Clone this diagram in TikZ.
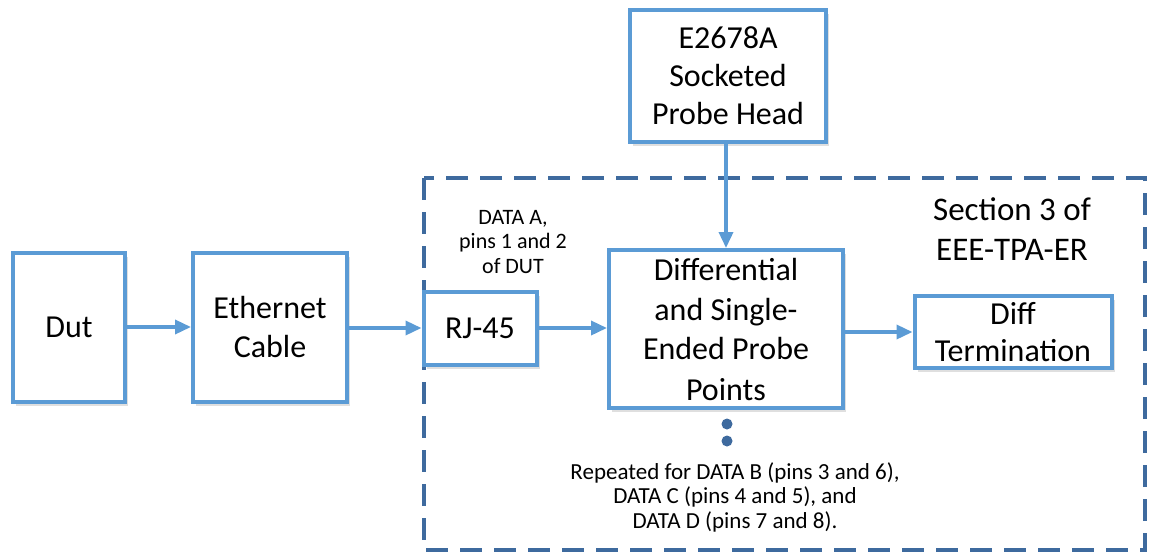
\documentclass[tikz,border=0pt]{standalone}
\usepackage{fontspec}
\setmainfont{Carlito}
\usetikzlibrary{arrows.meta,shadows}
\definecolor{boxblue}{HTML}{5B9BD5}
\definecolor{dashblue}{HTML}{3E6A9E}
\begin{document}
\begin{tikzpicture}[x=1pt,y=-1pt,
        block/.style={draw=boxblue,line width=4pt,fill=white,align=center,inner sep=0pt,
            drop shadow={shadow xshift=3pt,shadow yshift=-4pt,opacity=0.25}},
        big/.style={font=\fontsize{32}{39}\selectfont},
        small/.style={font=\fontsize{22}{24.5}\selectfont},
        dot/.style={circle,fill=dashblue,inner sep=0pt,minimum size=11pt},
        link/.style={draw=boxblue,line width=3.5pt,-{Triangle[length=16pt,width=14pt]}}]
    \useasboundingbox (0,0) rectangle (1151,555);
    % section frame
    \draw[dashblue,line width=4pt,dash pattern=on 22pt off 12pt] (424,178) rectangle (1145,550);
    \node[align=center,font=\fontsize{33}{40}\selectfont] (sect) at (1012,229) {Section 3 of\\EEE-TPA-ER};
    % blocks
    \node[block,big,minimum width=112pt,minimum height=149pt] (dut) at (69,327) {Dut};
    \node[block,big,minimum width=154pt,minimum height=149pt] (cable) at (270,327) {Ethernet\\Cable};
    \node[block,big,minimum width=113pt,minimum height=73pt] (rj) at (480,328) {RJ-45};
    \node[block,font=\fontsize{32}{40}\selectfont,minimum width=234pt,minimum height=158pt] (diff) at (726,329)
        {Differential\\and Single-\\Ended Probe\\Points};
    \node[block,font=\fontsize{32}{37}\selectfont,minimum width=197pt,minimum height=72pt] (term) at (1013,332)
        {Diff\\Termination};
    \node[block,font=\fontsize{32}{38}\selectfont,minimum width=196pt,minimum height=132pt] (head) at (728,76)
        {E2678A\\Socketed\\Probe Head};
    % notes
    \node[small,align=center] (pins) at (513,242) {DATA A,\\pins 1 and 2\\of DUT};
    \node[dot] (dot1) at (727,424) {};
    \node[dot] (dot2) at (727,441) {};
    \node[small,font=\fontsize{23}{24.5}\selectfont,align=center] (rep) at (735,497)
        {Repeated for DATA B (pins 3 and 6),\\DATA C (pins 4 and 5), and\\DATA D (pins 7 and 8).};
    % connections
    \draw[link] (dut) -- (cable);
    \draw[link] (cable.east |- rj.west) -- (rj.west);
    \draw[link] (rj.east) -- (rj.east -| diff.west);
    \draw[link] (diff.east |- term.west) -- (term.west);
    \draw[link] (head.south -| diff.north) -- (diff.north);
\end{tikzpicture}
\end{document}
